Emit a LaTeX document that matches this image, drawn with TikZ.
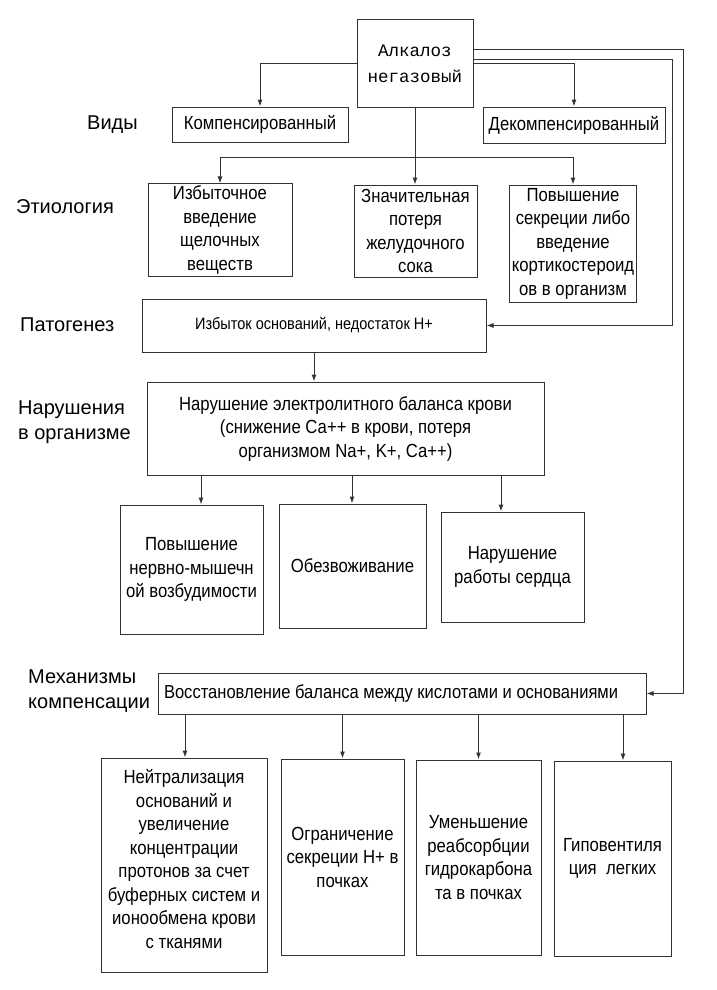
\documentclass[tikz,border=0pt]{standalone}
\usepackage{fontspec}
\setmainfont{Liberation Sans}[FakeStretch=0.88]
\newfontfamily\etiqfont{Liberation Sans}
\newfontfamily\maqfont{Liberation Mono}
\usetikzlibrary{arrows.meta}

\begin{document}
\begin{tikzpicture}[x=1pt,y=-1pt,
        caja/.style={draw=trazo,line width=1pt,inner sep=2pt,align=center,
            font=\fontsize{19}{23.5}\selectfont},
        etiq/.style={anchor=west,align=left,inner sep=0pt,
            font=\etiqfont\fontsize{20}{25}\selectfont},
        flecha/.style={draw=trazo,line width=1pt,-{Latex[length=7pt,width=5pt]}},
        enlace/.style={draw=trazo,line width=1pt}]
        %colores
        \colorlet{trazo}{black!80}

        \useasboundingbox (0,0) rectangle (716,990);

        % Caja superior
        \node[caja,font=\maqfont\fontsize{17.5}{26}\selectfont,minimum width=116,minimum height=87] (alk) at (415,63.5) {Алкалоз\\негазовый};

        % Etiquetas de la izquierda
        \node[etiq] (lvid) at (87,125) {Виды};
        \node[etiq] (leti) at (16,207) {Этиология};
        \node[etiq] (lpat) at (20,325) {Патогенез};
        \node[etiq] (lnar) at (18,422) {Нарушения\\в организме};
        \node[etiq] (lmec) at (28,691) {Механизмы\\компенсации};

        % Виды
        \node[caja,minimum width=176,minimum height=35] (komp) at (260,124.5) {Компенсированный};
        \node[caja,minimum width=182,minimum height=36] (dekomp) at (574,125) {Декомпенсированный};

        % Этиология
        \node[caja,minimum width=144,minimum height=90] (et1) at (220,230) {Избыточное\\введение\\щелочных\\веществ};
        \node[caja,minimum width=123,minimum height=92] (et2) at (415.5,231) {Значительная\\потеря\\желудочного\\сока};
        \node[caja,minimum width=126,minimum height=117] (et3) at (573,243.5) {Повышение\\секреции либо\\введение\\кортикостероид\\ов в организм};

        % Патогенез
        \node[caja,font=\fontsize{16.5}{20}\selectfont,minimum width=344,minimum height=53] (pat) at (314,325.5) {Избыток оснований, недостаток Н+};

        % Нарушения
        \node[caja,minimum width=397,minimum height=93] (nar) at (345.5,428.5) {Нарушение электролитного баланса крови\\(снижение Са++ в крови, потеря\\организмом Na+, K+, Ca++)};
        \node[caja,minimum width=143,minimum height=129] (n1) at (191.5,569.5) {Повышение\\нервно-мышечн\\ой возбудимости};
        \node[caja,minimum width=147,minimum height=124] (n2) at (352.5,566) {Обезвоживание};
        \node[caja,minimum width=143,minimum height=110] (n3) at (512.5,567) {Нарушение\\работы сердца};

        % Механизмы
        \node[caja,font=\fontsize{18.8}{23}\selectfont,minimum width=488,minimum height=41] (mech) at (402,693.5) {\makebox[476pt][l]{Восстановление баланса между кислотами и основаниями}};
        \node[caja,minimum width=166,minimum height=214] (m1) at (184,865) {Нейтрализация\\оснований и\\увеличение\\концентрации\\протонов за счет\\буферных систем и\\ионообмена крови\\с тканями\\[-18pt]\strut};
        \node[caja,minimum width=123,minimum height=196] (m2) at (342.5,857) {Ограничение\\секреции Н+ в\\почках};
        \node[caja,minimum width=125,minimum height=195] (m3) at (478.5,857.5) {Уменьшение\\реабсорбции\\гидрокарбона\\та в почках};
        \node[caja,minimum width=117,minimum height=195] (m4) at (612.5,858.5) {Гиповентиля\\ция~~легких};

        % Flechas desde la caja superior
        \draw[flecha] (alk.west) -| (komp.north);
        \draw[flecha] (alk.east) -| (dekomp.north);
        \coordinate (rama) at (415,157);
        \draw[enlace] (alk.south) -- (rama);
        \draw[flecha] (rama) -| (et1.north);
        \draw[flecha] (rama) -- (rama |- et2.north);
        \draw[flecha] (rama) -| (et3.north);

        % Lineas de la derecha
        \coordinate (der1) at (683,0);
        \coordinate (der2) at (672,0);
        \draw[flecha] ([yshift=13.5pt]alk.east) -- ([yshift=13.5pt]alk.east -| der1) |- (mech.east);
        \draw[flecha] ([yshift=3.5pt]alk.east) -- ([yshift=3.5pt]alk.east -| der2) |- (pat.east);

        % Flechas hacia abajo
        \draw[flecha] (pat.south) -- (pat.south |- nar.north);
        \foreach \n/\dx in {n1/9.5,n2/-0.5,n3/-11.5}
        \draw[flecha] ([xshift=\dx pt]\n.north |- nar.south) -- ([xshift=\dx pt]\n.north);
        \foreach \n/\dx in {m1/1,m2/0,m3/0,m4/10.5}
        \draw[flecha] ([xshift=\dx pt]\n.north |- mech.south) -- ([xshift=\dx pt]\n.north);
    \end{tikzpicture}
\end{document}
